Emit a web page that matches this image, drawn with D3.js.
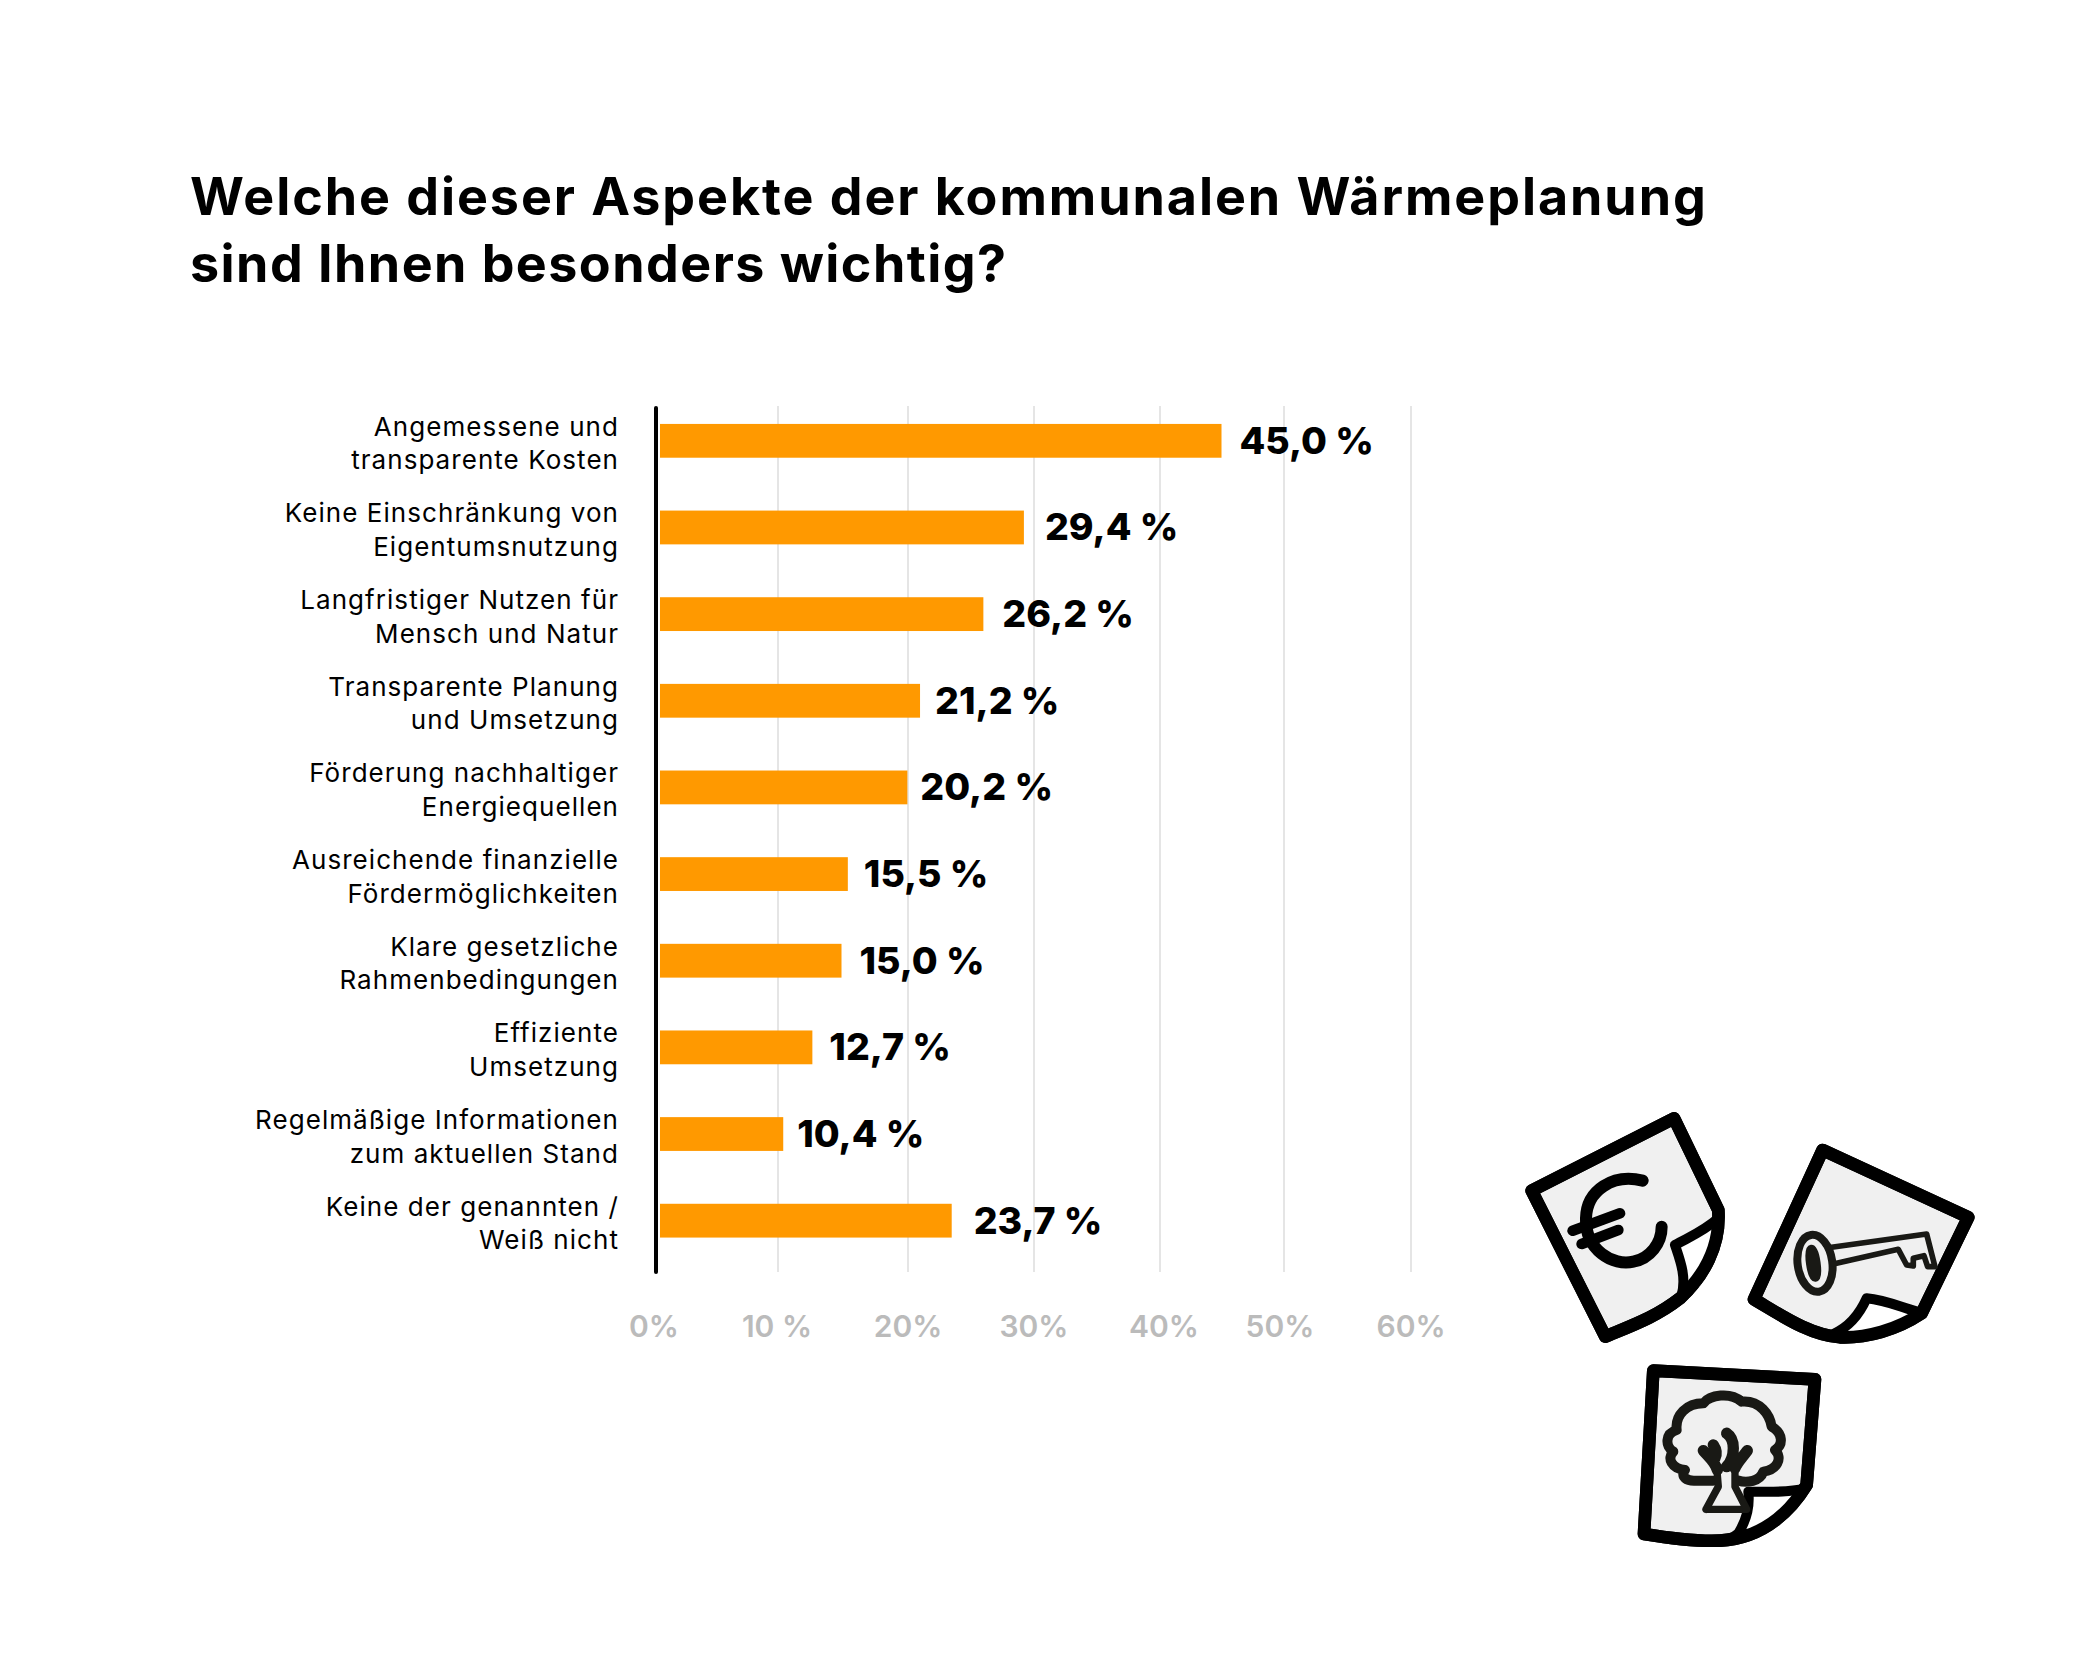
<!DOCTYPE html>
<html><head><meta charset="utf-8">
<script src="https://cdn.jsdelivr.net/npm/d3@7"></script>
<style>html,body{margin:0;background:#fff}svg{display:block}</style></head>
<body><div id="chart"></div>
<script>
const titleLines = ["Welche dieser Aspekte der kommunalen Wärmeplanung", "sind Ihnen besonders wichtig?"];
const categories = [
  ["Angemessene und","transparente Kosten"],
  ["Keine Einschränkung von","Eigentumsnutzung"],
  ["Langfristiger Nutzen für","Mensch und Natur"],
  ["Transparente Planung","und Umsetzung"],
  ["Förderung nachhaltiger","Energiequellen"],
  ["Ausreichende finanzielle","Fördermöglichkeiten"],
  ["Klare gesetzliche","Rahmenbedingungen"],
  ["Effiziente","Umsetzung"],
  ["Regelmäßige Informationen","zum aktuellen Stand"],
  ["Keine der genannten /","Weiß nicht"]
];
const values = [45.0,29.4,26.2,21.2,20.2,15.5,15.0,12.7,10.4,23.7];
const valueLabels = ["45,0 %","29,4 %","26,2 %","21,2 %","20,2 %","15,5 %","15,0 %","12,7 %","10,4 %","23,7 %"];
const tickValues = [0,10,20,30,40,50,60];
const tickLabels = ["0%","10 %","20%","30%","40%","50%","60%"];
// hand-placed layout of the original
const gridPositions = [656,778,908,1034,1160,1284,1411];
const tickLabelPositions = [654,777,908,1034,1164,1280,1411];
const labelGaps = [18,21,19,15,13,16,18,17,14,22];
const titleSpacing = [1.93,1.45];

const W=2084,H=1654;
const svg=d3.select("#chart").append("svg").attr("width",W).attr("height",H);
const font="Inter, sans-serif";
const x=d3.scaleLinear().domain([0,60]).range([651.5,1411.5]);
const gridX=d3.scaleLinear().domain(tickValues).range(gridPositions);
const tickX=d3.scaleLinear().domain(tickValues).range(tickLabelPositions);
const y=d3.scaleBand().domain(d3.range(categories.length)).range([397.5,1264]).paddingInner(0.61).paddingOuter(0.305);
const barStart=660;

svg.append("g").selectAll("text").data(titleLines).join("text")
  .attr("x",190).attr("y",(d,i)=>215+i*67).attr("letter-spacing",(d,i)=>titleSpacing[i])
  .attr("font-family",font).attr("font-weight",700).attr("font-size",52).attr("fill","#000").text(d=>d);

svg.append("g").selectAll("line").data(tickValues.slice(1)).join("line")
  .attr("x1",d=>gridX(d)).attr("x2",d=>gridX(d)).attr("y1",406).attr("y2",1272)
  .attr("stroke","#dcdcdc").attr("stroke-width",1.5);

svg.append("g").selectAll("rect").data(values).join("rect")
  .attr("x",barStart).attr("y",(d,i)=>y(i)).attr("height",y.bandwidth())
  .attr("width",d=>x(d)-barStart).attr("fill","#ff9900");

svg.append("line").attr("x1",656).attr("x2",656).attr("y1",408).attr("y2",1272)
  .attr("stroke","#000").attr("stroke-width",4).attr("stroke-linecap","round");

svg.append("g").selectAll("text").data(categories).join("text")
  .attr("font-family",font).attr("font-size",26).attr("letter-spacing",1.05).attr("text-anchor","end").attr("fill","#000")
  .each(function(d,i){
    d3.select(this).selectAll("tspan").data(d).join("tspan")
      .attr("x",619).attr("y",(t,j)=>y(i)+y.bandwidth()/2-5+j*33.5).text(t=>t);
  });

svg.append("g").selectAll("text").data(values).join("text")
  .attr("x",(d,i)=>x(d)+labelGaps[i]).attr("y",(d,i)=>y(i)+y.bandwidth()/2+13)
  .attr("font-family",font).attr("font-weight",800).attr("font-size",37.5).attr("fill","#000")
  .text((d,i)=>valueLabels[i]);

svg.append("g").selectAll("text").data(tickValues).join("text")
  .attr("x",d=>tickX(d)).attr("y",1337).attr("text-anchor","middle")
  .attr("font-family",font).attr("font-weight",600).attr("font-size",30).attr("fill","#bbbbbb")
  .text((d,i)=>tickLabels[i]);

// decorative icons
const g=svg.append("g").attr("transform","translate(1500,1090) scale(0.3333)").attr("fill","none").attr("stroke-linejoin","round").attr("stroke-linecap","round");
function page(o,f,w){
  g.append("path").attr("d",o).attr("fill","#f0f0f0").attr("stroke","#000").attr("stroke-width",38);
  g.append("path").attr("d",w).attr("fill","#fff");
  g.append("path").attr("d",f).attr("stroke","#000").attr("stroke-width",30);
  g.append("path").attr("d",o).attr("stroke","#000").attr("stroke-width",38);
}
page("M95,302L522,85L655,360C662,470 610,560 540,625C470,680 400,705 316,740Z",
     "M655,385C610,425 570,440 525,465C540,510 560,560 545,615",
     "M525,465L655,385L600,590L545,615Z");
page("M968,180L1405,382L1265,670C1190,720 1100,745 1020,742C930,735 850,680 762,628Z",
     "M1262,668C1210,655 1160,630 1100,625C1080,670 1050,710 1000,732",
     "M1100,625L1262,668L1190,720L1010,735Z");
page("M460,842L945,868L920,1185C880,1250 800,1345 660,1352C590,1355 510,1345 432,1332Z",
     "M915,1195C860,1210 800,1205 745,1205C750,1250 740,1290 715,1330C700,1345 680,1350 650,1350",
     "M745,1205L915,1195L820,1310L715,1335Z");
const ink="#191915";
g.append("path").attr("d","M428,272C340,250 260,300 258,385C255,480 340,530 400,515C450,505 485,460 485,410").attr("stroke","#000").attr("stroke-width",36);
g.append("path").attr("d","M218,422L360,370M245,462L355,420").attr("stroke","#000").attr("stroke-width",32);
g.append("ellipse").attr("transform","rotate(-8 945 520)").attr("cx",945).attr("cy",520).attr("rx",52).attr("ry",86).attr("stroke",ink).attr("stroke-width",24);
g.append("ellipse").attr("transform","rotate(-8 940 520)").attr("cx",940).attr("cy",520).attr("rx",10).attr("ry",44).attr("stroke",ink).attr("stroke-width",24);
g.append("path").attr("d","M995,472L1280,432L1305,530L1283,530L1272,497L1240,505L1240,528L1220,525L1195,478L1000,522").attr("stroke",ink).attr("stroke-width",17);
g.append("path").attr("d","M640,1172L590,1172C560,1175 540,1160 555,1140C515,1135 500,1105 520,1085C495,1070 495,1030 530,1020C525,975 560,940 610,940C630,915 690,905 725,935C780,930 810,975 815,1010C850,1030 850,1065 825,1080C850,1105 830,1140 790,1145C780,1175 740,1180 715,1172").attr("stroke",ink).attr("stroke-width",30);
g.append("path").attr("d","M618,1258L740,1258L705,1190L705,1130M618,1258L655,1190L650,1130").attr("stroke",ink).attr("stroke-width",22);
g.append("path").attr("d","M610,1082C625,1100 645,1115 652,1140M640,1065C650,1080 650,1095 645,1105M742,1082C725,1105 710,1120 705,1135M700,1075C700,1095 695,1115 680,1130M680,1030C695,1040 700,1060 700,1075").attr("stroke",ink).attr("stroke-width",34);
</script></body></html>
